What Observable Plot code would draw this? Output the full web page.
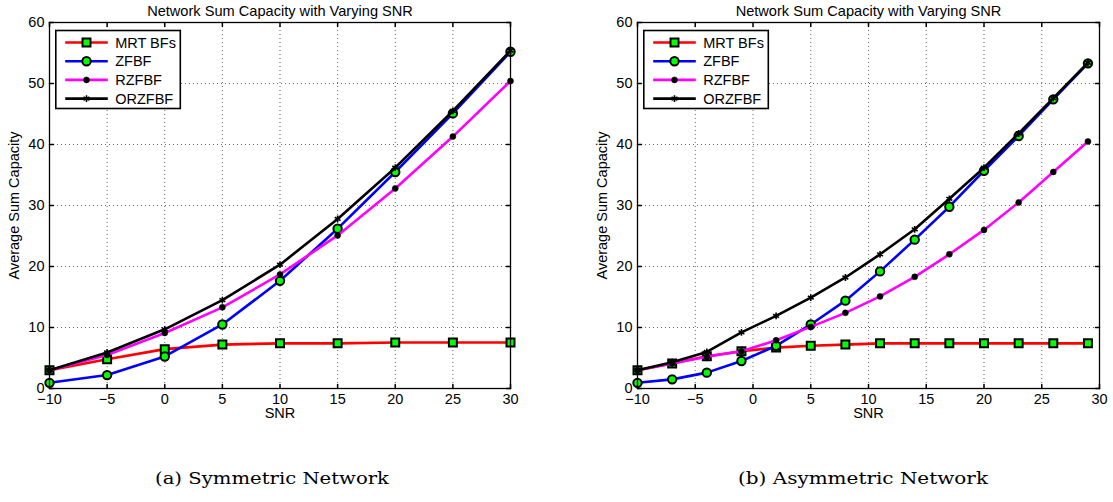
<!DOCTYPE html>
<html><head><meta charset="utf-8">
<script src="https://cdn.jsdelivr.net/npm/d3@7"></script>
<script src="https://cdn.jsdelivr.net/npm/@observablehq/plot@0.6"></script>
<style>
body{margin:0;background:#fff;}
#wrap{position:relative;width:1113px;height:502px;background:#fff;overflow:hidden;}
#wrap > svg{position:absolute;top:0;}
</style></head><body><div id="wrap"></div>
<script>
// ---------- data ----------
const seriesNames = ["MRT BFs", "ZFBF", "RZFBF", "ORZFBF"];

const symSnr    = [-10, -5, 0, 5, 10, 15, 20, 25, 30];
const symMRT    = [3.0, 4.8, 6.45, 7.2, 7.4, 7.4, 7.55, 7.55, 7.55];
const symZFBF   = [0.93, 2.2, 5.25, 10.5, 17.65, 26.2, 35.5, 45.1, 55.2];
const symRZFBF  = [3.0, 5.5, 9.1, 13.3, 18.7, 25.1, 32.8, 41.3, 50.4];
const symORZFBF = [3.0, 5.9, 9.7, 14.5, 20.3, 27.8, 36.2, 45.5, 55.4];

const asymSnr    = [-10, -7, -4, -1, 2, 5, 8, 11, 14, 17, 20, 23, 26, 29];
const asymMRT    = [3.0, 4.1, 5.3, 6.1, 6.7, 7.0, 7.2, 7.4, 7.4, 7.4, 7.4, 7.4, 7.4, 7.4];
const asymZFBF   = [0.93, 1.5, 2.6, 4.5, 7.0, 10.5, 14.4, 19.2, 24.4, 29.8, 35.7, 41.4, 47.4, 53.3];
const asymRZFBF  = [3.0, 4.1, 5.2, 6.1, 7.9, 10.1, 12.4, 15.1, 18.3, 22.0, 26.0, 30.5, 35.5, 40.5];
const asymORZFBF = [3.0, 4.3, 6.0, 9.2, 11.9, 14.9, 18.2, 22.0, 26.1, 31.1, 36.2, 41.8, 47.6, 53.4];

const xTicks = [-10, -5, 0, 5, 10, 15, 20, 25, 30];
const yTicks = [0, 10, 20, 30, 40, 50, 60];
const titleText = "Network Sum Capacity with Varying SNR";
const xLabel = "SNR";
const yLabel = "Average Sum Capacity";
const captions = ["(a) Symmetric Network", "(b) Asymmetric Network"];

// ---------- styles ----------
const styles = [
  {color: "#ff0000", symbol: "square", r: 4.5, fill: "#00ff00", stroke: "#000", sw: 2},
  {color: "#0000ff", symbol: "circle", r: 4.2, fill: "#00ff00", stroke: "#000", sw: 2},
  {color: "#ff00ff", symbol: "circle", r: 3.0, fill: "#000", stroke: "#000", sw: 0.5},
  {color: "#000000", symbol: "asterisk", r: 3.2, fill: "none", stroke: "#000", sw: 1.6}
];
const FONT = "'Liberation Sans', Arial, Helvetica, sans-serif";
const FS = 14.5;
const tickShape = {draw(ctx, l) { ctx.moveTo(0, 0); ctx.lineTo(0, -l); }};
const H = 430, MT = 22, MB = 42;

function panel(snr, seriesVals, width, ml, mr) {
  const marks = [
    Plot.gridX(xTicks, {stroke: "#000", strokeOpacity: 0.75, strokeDasharray: "1,3", strokeWidth: 0.8}),
    Plot.gridY(yTicks, {stroke: "#000", strokeOpacity: 0.75, strokeDasharray: "1,3", strokeWidth: 0.8}),
    Plot.vector(xTicks, {x: d => d, frameAnchor: "bottom", length: 4, rotate: 0, anchor: "start", shape: tickShape, stroke: "#000"}),
    Plot.vector(xTicks, {x: d => d, frameAnchor: "top", length: 4, rotate: 180, anchor: "start", shape: tickShape, stroke: "#000"}),
    Plot.vector(yTicks, {y: d => d, frameAnchor: "left", length: 4, rotate: 90, anchor: "start", shape: tickShape, stroke: "#000"}),
    Plot.vector(yTicks, {y: d => d, frameAnchor: "right", length: 4, rotate: 270, anchor: "start", shape: tickShape, stroke: "#000"})
  ];
  seriesVals.forEach((vals, i) => {
    const rows = snr.map((s, j) => ({snr: s, v: vals[j]}));
    const st = styles[i];
    marks.push(Plot.line(rows, {x: "snr", y: "v", stroke: st.color, strokeWidth: 2.6}));
    marks.push(Plot.dot(rows, {x: "snr", y: "v", symbol: st.symbol, r: st.r, fill: st.fill, stroke: st.stroke, strokeWidth: st.sw}));
  });
  marks.push(
    Plot.frame({stroke: "#000", strokeWidth: 1.3}),
    Plot.axisX({ticks: xTicks, tickSize: 0, tickPadding: 5, label: null, fontSize: FS}),
    Plot.axisY({ticks: yTicks, tickSize: 0, tickPadding: 5, label: null, fontSize: FS}),
    Plot.text([titleText], {frameAnchor: "top", dy: -11.5, textAnchor: "middle", lineAnchor: "middle", fontSize: 14.6}),
    Plot.text([xLabel], {frameAnchor: "bottom", dy: 25, textAnchor: "middle", lineAnchor: "middle", fontSize: FS}),
    Plot.text([yLabel], {frameAnchor: "left", dx: -35, rotate: -90, textAnchor: "middle", lineAnchor: "middle", fontSize: FS})
  );
  const svg = Plot.plot({
    width, height: H, marginLeft: ml, marginRight: mr, marginTop: MT, marginBottom: MB,
    style: {fontFamily: FONT, fontSize: FS + "px", color: "#000", background: "transparent", overflow: "visible"},
    x: {domain: [-10, 30]},
    y: {domain: [0, 60]},
    marks
  });
  // legend box inside the axes, upper-left
  const g = d3.select(svg).append("g").attr("transform", `translate(${ml + 6.8},${MT + 8.5})`);
  g.append("rect").attr("width", 124.5).attr("height", 78).attr("fill", "#fff").attr("stroke", "#000").attr("stroke-width", 1.6);
  const symMap = {square: d3.symbolSquare, circle: d3.symbolCircle, asterisk: d3.symbolAsterisk};
  seriesNames.forEach((name, i) => {
    const st = styles[i];
    const y = 12 + i * 18.7;
    g.append("line").attr("x1", 9.4).attr("x2", 52).attr("y1", y).attr("y2", y).attr("stroke", st.color).attr("stroke-width", 2.6);
    g.append("path").attr("transform", `translate(30.7,${y})`)
      .attr("d", d3.symbol(symMap[st.symbol], Math.PI * st.r * st.r)())
      .attr("fill", st.fill).attr("stroke", st.stroke).attr("stroke-width", st.sw);
    g.append("text").attr("x", 59.4).attr("y", y).attr("dy", "0.36em").attr("font-size", FS)
      .attr("text-anchor", "start")
      .attr("font-family", FONT).attr("fill", "#000").text(name);
  });
  return svg;
}

const wrap = document.getElementById("wrap");
const left = panel(symSnr, [symMRT, symZFBF, symRZFBF, symORZFBF], 556, 49, 46);
left.style.left = "0px";
wrap.appendChild(left);
const right = panel(asymSnr, [asymMRT, asymZFBF, asymRZFBF, asymORZFBF], 557, 81, 14);
right.style.left = "556px";
wrap.appendChild(right);

// captions
const cap = d3.create("svg").attr("width", 1113).attr("height", 72)
  .style("position", "absolute").style("left", "0px").style("top", "430px");
[[272, 234], [863, 250]].forEach(([cx, w], i) => {
  cap.append("text").attr("x", cx).attr("y", 54).attr("text-anchor", "middle")
    .attr("font-family", "'DejaVu Serif', 'Liberation Serif', serif").attr("font-size", 17)
    .attr("textLength", w).attr("lengthAdjust", "spacingAndGlyphs")
    .attr("fill", "#000").text(captions[i]);
});
wrap.appendChild(cap.node());
</script></body></html>
